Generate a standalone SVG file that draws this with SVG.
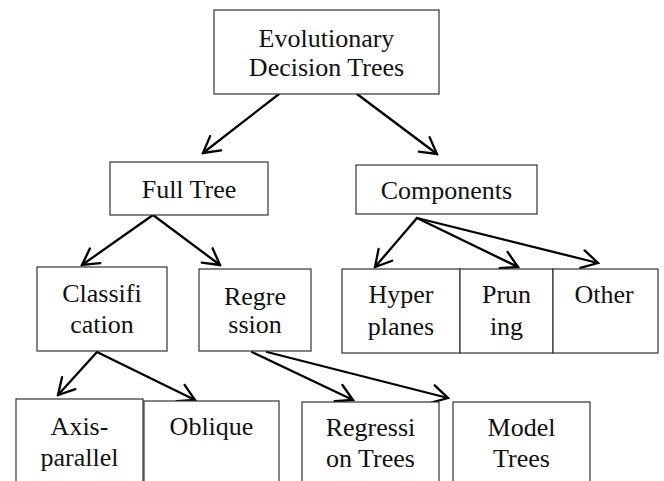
<svg xmlns="http://www.w3.org/2000/svg" width="664" height="481" viewBox="0 0 664 481">
  <defs>
    <marker id="arr" viewBox="-20 -12 22 24" refX="0" refY="0" markerWidth="22" markerHeight="24" markerUnits="userSpaceOnUse" orient="auto">
      <path d="M-16,-9 L0,0 L-16,9" fill="none" stroke="#000" stroke-width="2.3" stroke-linecap="round" stroke-linejoin="miter"/>
    </marker>
  </defs>
  <style>
    .box { fill: #fff; stroke: #333; stroke-width: 1.2; }
    .t { font-family: "Liberation Serif", "Times New Roman", serif; font-size: 26px; fill: #111; text-anchor: middle; }
    .c { stroke: #000; stroke-width: 2.3; fill: none; stroke-linecap: round; marker-end: url(#arr); }
  </style>
  <rect width="664" height="481" fill="#fff"/>

  <g id="connectors">
    <line class="c" x1="279" y1="94" x2="203" y2="153"/>
    <line class="c" x1="357" y1="94" x2="437" y2="154"/>
    <line class="c" x1="153" y1="215" x2="82" y2="265"/>
    <line class="c" x1="153" y1="215" x2="220" y2="265"/>
    <line class="c" x1="417" y1="218" x2="375" y2="267"/>
    <line class="c" x1="417" y1="218" x2="518" y2="267"/>
    <line class="c" x1="417" y1="218" x2="598" y2="263"/>
    <line class="c" x1="97" y1="352" x2="58" y2="395"/>
    <line class="c" x1="97" y1="352" x2="195" y2="400"/>
    <line class="c" x1="252" y1="352" x2="353" y2="400"/>
    <line class="c" x1="267" y1="352" x2="448" y2="398"/>
  </g>

  <g id="evolutionary-decision-trees">
    <rect class="box" x="214" y="10" width="225" height="84"/>
    <text class="t" x="326.5" y="47">Evolutionary</text>
    <text class="t" x="326.5" y="76">Decision Trees</text>
  </g>

  <g id="full-tree">
    <rect class="box" x="110" y="162" width="158" height="53"/>
    <text class="t" x="189" y="198">Full Tree</text>
  </g>

  <g id="components">
    <rect class="box" x="356" y="165" width="181" height="49"/>
    <text class="t" x="446.5" y="199">Components</text>
  </g>

  <g id="classification">
    <rect class="box" x="37" y="267" width="130" height="84"/>
    <text class="t" x="102" y="302">Classifi</text>
    <text class="t" x="102" y="333">cation</text>
  </g>

  <g id="regression">
    <rect class="box" x="199" y="269" width="112" height="82"/>
    <text class="t" x="255" y="305">Regre</text>
    <text class="t" x="255" y="333">ssion</text>
  </g>

  <g id="hyperplanes">
    <rect class="box" x="342" y="269" width="118" height="84"/>
    <text class="t" x="401" y="303">Hyper</text>
    <text class="t" x="401" y="335">planes</text>
  </g>

  <g id="pruning">
    <rect class="box" x="460" y="269" width="93" height="84"/>
    <text class="t" x="506.5" y="303">Prun</text>
    <text class="t" x="506.5" y="335">ing</text>
  </g>

  <g id="other">
    <rect class="box" x="553" y="269" width="105" height="84"/>
    <text class="t" x="604" y="303">Other</text>
  </g>

  <g id="axis-parallel">
    <rect class="box" x="16" y="399" width="127" height="100"/>
    <text class="t" x="79.5" y="435">Axis-</text>
    <text class="t" x="79.5" y="466">parallel</text>
  </g>

  <g id="oblique">
    <rect class="box" x="144" y="401" width="135" height="100"/>
    <text class="t" x="211.5" y="435">Oblique</text>
  </g>

  <g id="regression-trees">
    <rect class="box" x="302" y="402" width="137" height="100"/>
    <text class="t" x="370.5" y="436">Regressi</text>
    <text class="t" x="370.5" y="467">on Trees</text>
  </g>

  <g id="model-trees">
    <rect class="box" x="453" y="402" width="137" height="100"/>
    <text class="t" x="521.5" y="436">Model</text>
    <text class="t" x="521.5" y="467">Trees</text>
  </g>
</svg>
